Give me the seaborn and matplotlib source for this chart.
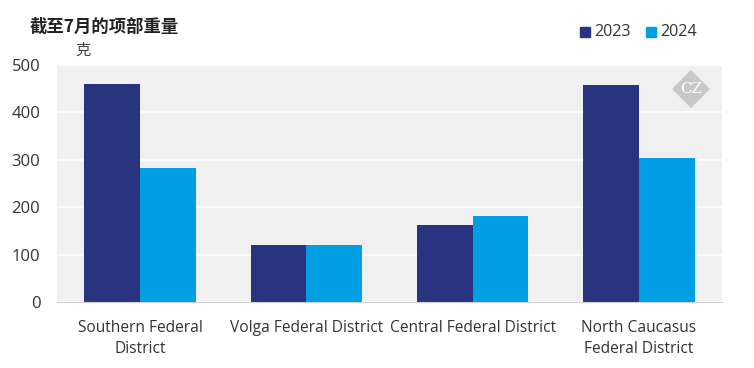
import matplotlib
matplotlib.use("Agg")
from matplotlib import pyplot as plt
from matplotlib.patches import Rectangle, Polygon
import seaborn as sns
import pandas as pd

districts = ["Southern Federal\nDistrict", "Volga Federal District",
             "Central Federal District", "North Caucasus\nFederal District"]
years = ["2023", "2024"]
vals_2023 = [459, 121, 162, 457]
vals_2024 = [282, 121, 181, 303]

df = pd.DataFrame({
    "district": districts * 2,
    "year": [years[0]] * 4 + [years[1]] * 4,
    "weight": vals_2023 + vals_2024,
})

sns.set_style("whitegrid")
plt.rcParams["font.family"] = ["Open Sans", "Noto Sans CJK SC", "DejaVu Sans"]
palette = {"2023": "#283480", "2024": "#009FE3"}

fig = plt.figure(figsize=(7.54, 3.68), dpi=100)
ax = fig.add_axes([57 / 754, 1 - 302 / 368, 665 / 754, 237 / 368])
sns.barplot(data=df, x="district", y="weight", hue="year", palette=palette,
            width=0.67, saturation=1, linewidth=0, ax=ax, legend=False)

ax.set_facecolor("#f0f0f0")
ax.set_ylim(0, 500)
ax.set_yticks(range(0, 501, 100))
ax.grid(axis="y", color="white", linewidth=1.2)
ax.grid(axis="x", visible=False)
for s in ["top", "right", "left"]:
    ax.spines[s].set_visible(False)
ax.spines["bottom"].set_color("#d0d0d0")
ax.set_xlabel("")
ax.set_ylabel("")
ax.tick_params(axis="x", length=0, labelsize=11.2, colors="#333333", pad=13)
ax.tick_params(axis="y", length=0, labelsize=12, colors="#333333", pad=12)
for lbl in ax.get_xticklabels():
    lbl.set_linespacing(1.45)

fig.text(30 / 754, 1 - 27 / 368, "截至7月的项部重量", fontsize=12.5, fontweight="bold",
         color="#222222", va="center", family=["Noto Sans CJK SC"])
fig.text(75 / 754, 1 - 50 / 368, "克", fontsize=11, color="#444444", va="center",
         family=["Noto Sans CJK SC"])

# legend
for i, y in enumerate(years):
    x0 = (580 + i * 66) / 754
    fig.patches.append(Rectangle((x0, 1 - 37 / 368), 10 / 754, 10 / 368,
                                 transform=fig.transFigure, color=palette[y]))
    fig.text(x0 + 14 / 754, 1 - 32.5 / 368, y, fontsize=11.6, color="#333333", va="center")

# logo
cx, cy, r = 691, 89, 19
fig.patches.append(Polygon([((cx - r) / 754, 1 - cy / 368), (cx / 754, 1 - (cy - r) / 368),
                            ((cx + r) / 754, 1 - cy / 368), (cx / 754, 1 - (cy + r) / 368)],
                           closed=True, transform=fig.transFigure, fc="#c8c8c8", ec="none",
                           zorder=5))
fig.text(cx / 754, 1 - cy / 368, "CZ", fontsize=11, color="white", ha="center",
         va="center", family="DejaVu Serif", zorder=6)

fig.savefig("out.png", dpi=100)
